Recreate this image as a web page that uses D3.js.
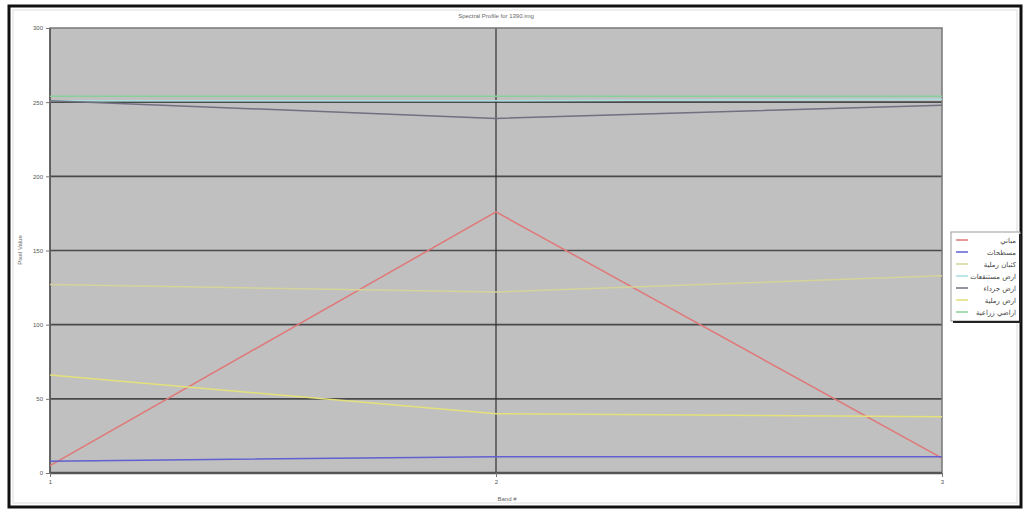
<!DOCTYPE html>
<html><head><meta charset="utf-8">
<script src="https://cdn.jsdelivr.net/npm/d3@7"></script>
<style>body{margin:0;background:#fff;}svg{display:block;font-family:"Liberation Sans",Arial,sans-serif;}</style>
</head><body><svg id="c" width="1026" height="513"></svg>
<script>
const bands = [1, 2, 3];
const yTicks = [0, 50, 100, 150, 200, 250, 300];
const seriesNames = ["مباني", "مسطحات", "كثبان رملية", "ارض مستنقعات", "ارض جرداء", "ارض رملية", "اراضي زراعية"];
const seriesColors = ["#e07878", "#6060d0", "#d4d49a", "#a8e0e0", "#707080", "#e4e07a", "#88d098"];
const s1 = [5, 176, 10];
const s2 = [8, 11, 11];
const s3 = [127, 122, 133];
const s4 = [251, 251, 252];
const s5 = [251, 239, 248];
const s6 = [66, 40, 38];
const s7 = [254, 254, 254];
const seriesValues = [s1, s2, s3, s4, s5, s6, s7];
const title = "Spectral Profile for 1390.img";
const xTitle = "Band #";
const yTitle = "Pixel Value";

const svg = d3.select("#c");
svg.append("rect").attr("x", 9).attr("y", 6).attr("width", 1012).attr("height", 501)
  .attr("fill", "#fff").attr("stroke", "#111").attr("stroke-width", 3);
svg.append("rect").attr("x", 13).attr("y", 10).attr("width", 1004).attr("height", 493)
  .attr("fill", "none").attr("stroke", "#ddd").attr("stroke-width", 1);

const x = d3.scaleLinear().domain([1, 3]).range([50, 942]);
const y = d3.scaleLinear().domain([0, 300]).range([473, 28]);

svg.append("rect").attr("x", x(1)).attr("y", y(300)).attr("width", x(3) - x(1)).attr("height", y(0) - y(300))
  .attr("fill", "#c0c0c0");

svg.append("g").selectAll("line").data(yTicks.filter(d => d > 0 && d < 300)).join("line")
  .attr("x1", x(1)).attr("x2", x(3)).attr("y1", d => y(d)).attr("y2", d => y(d))
  .attr("stroke", "#4a4a4a").attr("stroke-width", 1.6);
svg.append("line").attr("x1", x(2)).attr("x2", x(2)).attr("y1", y(300)).attr("y2", y(0))
  .attr("stroke", "#303030").attr("stroke-width", 1.2);

svg.append("rect").attr("x", x(1)).attr("y", y(300)).attr("width", x(3) - x(1)).attr("height", y(0) - y(300))
  .attr("fill", "none").attr("stroke", "#777").attr("stroke-width", 1.5);
svg.append("line").attr("x1", x(1)).attr("x2", x(3)).attr("y1", y(0)).attr("y2", y(0)).attr("stroke", "#555").attr("stroke-width", 2.5);
svg.append("line").attr("x1", x(1)).attr("x2", x(1)).attr("y1", y(0)).attr("y2", y(300)).attr("stroke", "#555").attr("stroke-width", 1.5);

const yAxis = svg.append("g").attr("transform", `translate(${x(1)},0)`)
  .call(d3.axisLeft(y).tickValues(yTicks).tickSize(4).tickFormat(d3.format("d")));
yAxis.select(".domain").remove();
yAxis.selectAll("text").attr("font-size", 6).attr("fill", "#555");
yAxis.selectAll("line").attr("stroke", "#777");
const xAxis = svg.append("g").attr("transform", `translate(0,${y(0)})`)
  .call(d3.axisBottom(x).tickValues(bands).tickSize(4).tickFormat(d3.format("d")));
xAxis.select(".domain").remove();
xAxis.selectAll("text").attr("font-size", 6).attr("fill", "#555");
xAxis.selectAll("line").attr("stroke", "#777");

const line = d3.line().x((d, i) => x(bands[i])).y(d => y(d));
seriesValues.forEach((vals, i) => {
  svg.append("path").datum(vals).attr("d", line).attr("fill", "none")
    .attr("stroke", seriesColors[i]).attr("stroke-width", 1.5);
});

svg.append("text").attr("x", x(2)).attr("y", 18).attr("text-anchor", "middle")
  .attr("font-size", 6).attr("fill", "#666").text(title);
svg.append("text").attr("x", 507).attr("y", 501).attr("text-anchor", "middle")
  .attr("font-size", 6).attr("fill", "#666").text(xTitle);
svg.append("text").attr("transform", "translate(22,250) rotate(-90)").attr("text-anchor", "middle")
  .attr("font-size", 6).attr("fill", "#666").text(yTitle);

const lg = svg.append("g");
lg.append("rect").attr("x", 951).attr("y", 232).attr("width", 69).attr("height", 89)
  .attr("fill", "#fff").attr("stroke", "#999").attr("stroke-width", 1);
lg.append("path").attr("d", "M1020,234 V322 H953").attr("fill", "none").attr("stroke", "#222").attr("stroke-width", 2);
const ly = d3.scalePoint().domain(d3.range(seriesNames.length)).range([240, 312]);
seriesNames.forEach((n, i) => {
  lg.append("line").attr("x1", 956).attr("x2", 968).attr("y1", ly(i)).attr("y2", ly(i))
    .attr("stroke", seriesColors[i]).attr("stroke-width", 1.5);
  lg.append("text").attr("x", 1016).attr("y", ly(i) + 2.5).attr("text-anchor", "end")
    .attr("font-size", 7).attr("fill", "#444").attr("font-family", "DejaVu Sans").text(n);
});
</script></body></html>
